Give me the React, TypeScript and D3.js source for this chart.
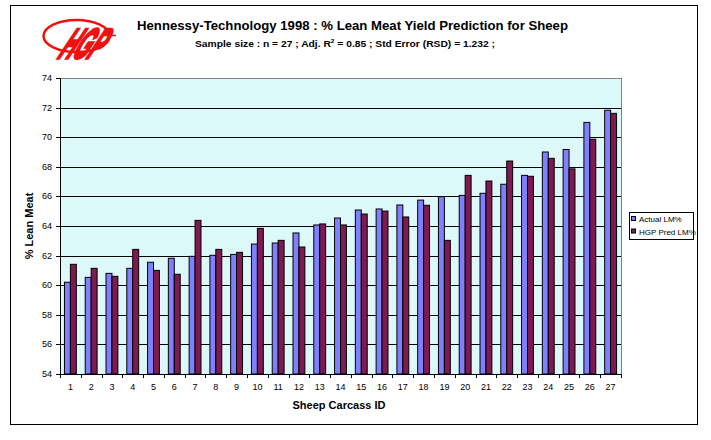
import React from "react";
import * as d3 from "d3";

const ids: number[] = Array.from({ length: 27 }, (_, i) => i + 1);
const actualLM: number[] = [60.2, 60.53, 60.8, 61.14, 61.55, 61.82, 61.95, 62.02, 62.08, 62.78, 62.85, 63.53, 64.07, 64.54, 65.08, 65.15, 65.42, 65.75, 65.98, 66.07, 66.21, 66.82, 67.42, 69.0, 69.17, 71.0, 71.82];
const predLM: number[] = [61.41, 61.14, 60.6, 62.42, 61.0, 60.74, 64.38, 62.42, 62.22, 63.84, 63.03, 62.58, 64.14, 64.07, 64.81, 65.01, 64.61, 65.4, 63.03, 67.42, 67.04, 68.39, 67.36, 68.57, 67.86, 69.86, 71.61];
const yTicks: number[] = [54, 56, 58, 60, 62, 64, 66, 68, 70, 72, 74];
const seriesNames: string[] = ["Actual LM%", "HGP Pred LM%"];
const seriesColors: string[] = ["#8080FF", "#7E1A52"];

const W = 711;
const H = 440;
const plot = { left: 60, right: 621, top: 78, bottom: 374 };
const FONT = "Arial, 'Liberation Sans', Helvetica, sans-serif";

export default function App() {
  const x = d3.scaleBand<number>().domain(ids).range([plot.left, plot.right]).paddingInner(0).paddingOuter(0);
  const y = d3.scaleLinear().domain([54, 74]).range([plot.bottom, plot.top]);
  const bw = x.bandwidth();
  const barW = bw / 3.5;
  const off = (bw - 2 * barW) / 2;
  const series = [actualLM, predLM];
  const boundaries = d3.range(0, ids.length + 1).map((i) => plot.left + i * bw);

  return (
    <svg width={W} height={H} style={{ position: "absolute", left: 0, top: 0, background: "#fff" }} fontFamily={FONT}>
      <rect x={0} y={0} width={W} height={H} fill="#fff" />
      <rect x={10.5} y={5.5} width={687} height={419} fill="none" stroke="#000" strokeWidth={1} />

      {/* logo */}
      <g>
        <ellipse cx={76.5} cy={36} rx={33} ry={16} fill="none" stroke="#F01010" strokeWidth={2.5} />
        <line x1={104} y1={35.5} x2={116} y2={35.5} stroke="#F01010" strokeWidth={1.5} />
        <text
          transform="translate(57,58) skewX(-30) scale(0.6,1.3)"
          fontSize={32}
          fontWeight={900}
          fontStyle="italic"
          fill="#F01010"
          stroke="#F01010"
          strokeWidth={2.5}
          fontFamily={FONT}
        >
          HGP
        </text>
      </g>

      {/* titles */}
      <text x={352.5} y={29.5} textAnchor="middle" fontSize={12.5} fontWeight="bold" textLength={431} lengthAdjust="spacingAndGlyphs">
        Hennessy-Technology 1998 : % Lean Meat Yield Prediction for Sheep
      </text>
      <text x={345} y={46.5} textAnchor="middle" fontSize={9.5} fontWeight="bold" textLength={300} lengthAdjust="spacingAndGlyphs">
        Sample size : n = 27 ; Adj. R<tspan fontSize={6} dy={-4}>2</tspan>
        <tspan dy={4}> = 0.85 ; Std Error (RSD) = 1.232 ;</tspan>
      </text>

      {/* plot area */}
      <rect x={plot.left} y={plot.top} width={plot.right - plot.left} height={plot.bottom - plot.top} fill="#DCF8F8" />
      {yTicks.filter((t) => t > 54 && t < 74).map((t) => (
        <line key={t} x1={plot.left} x2={plot.right} y1={Math.round(y(t)) + 0.5} y2={Math.round(y(t)) + 0.5} stroke="#000" strokeWidth={1} />
      ))}
      <line x1={plot.left} x2={plot.right} y1={plot.top + 0.5} y2={plot.top + 0.5} stroke="#808080" />
      <line x1={plot.right + 0.5} x2={plot.right + 0.5} y1={plot.top} y2={plot.bottom} stroke="#808080" />

      {/* bars */}
      {series.map((vals, s) =>
        vals.map((v, i) => {
          const x0 = (x(ids[i]) as number) + off + s * barW;
          return (
            <rect
              key={`${s}-${i}`}
              x={x0}
              y={y(v)}
              width={barW}
              height={y(54) - y(v)}
              fill={seriesColors[s]}
              stroke="#000"
              strokeWidth={1}
            />
          );
        })
      )}

      {/* axes */}
      <line x1={plot.left + 0.5} x2={plot.left + 0.5} y1={plot.top} y2={plot.bottom} stroke="#000" />
      <line x1={plot.left} x2={plot.right} y1={plot.bottom + 0.5} y2={plot.bottom + 0.5} stroke="#000" />
      {yTicks.map((t) => (
        <g key={t}>
          <line x1={plot.left - 4} x2={plot.left} y1={Math.round(y(t)) + 0.5} y2={Math.round(y(t)) + 0.5} stroke="#000" />
          <text x={52} y={y(t) + 3} textAnchor="end" fontSize={9}>
            {t}
          </text>
        </g>
      ))}
      {boundaries.map((b, i) => (
        <line key={i} x1={Math.round(b) + 0.5} x2={Math.round(b) + 0.5} y1={plot.bottom} y2={plot.bottom + 4} stroke="#000" />
      ))}
      {ids.map((id) => (
        <text key={id} x={(x(id) as number) + bw / 2} y={390} textAnchor="middle" fontSize={9}>
          {id}
        </text>
      ))}

      <text x={339} y={409} textAnchor="middle" fontSize={11} fontWeight="bold">
        Sheep Carcass ID
      </text>
      <text transform="translate(33,226) rotate(-90)" textAnchor="middle" fontSize={11} fontWeight="bold">
        % Lean Meat
      </text>

      {/* legend */}
      <g>
        <rect x={629.5} y={212.5} width={64} height={27} fill="#fff" stroke="#000" />
        {seriesNames.map((n, i) => (
          <g key={n}>
            <rect x={631.5} y={216.5 + i * 12.5} width={4} height={4} fill={seriesColors[i]} stroke="#000" />
            <text x={639} y={222 + i * 12.5} fontSize={8}>
              {n}
            </text>
          </g>
        ))}
      </g>
    </svg>
  );
}
